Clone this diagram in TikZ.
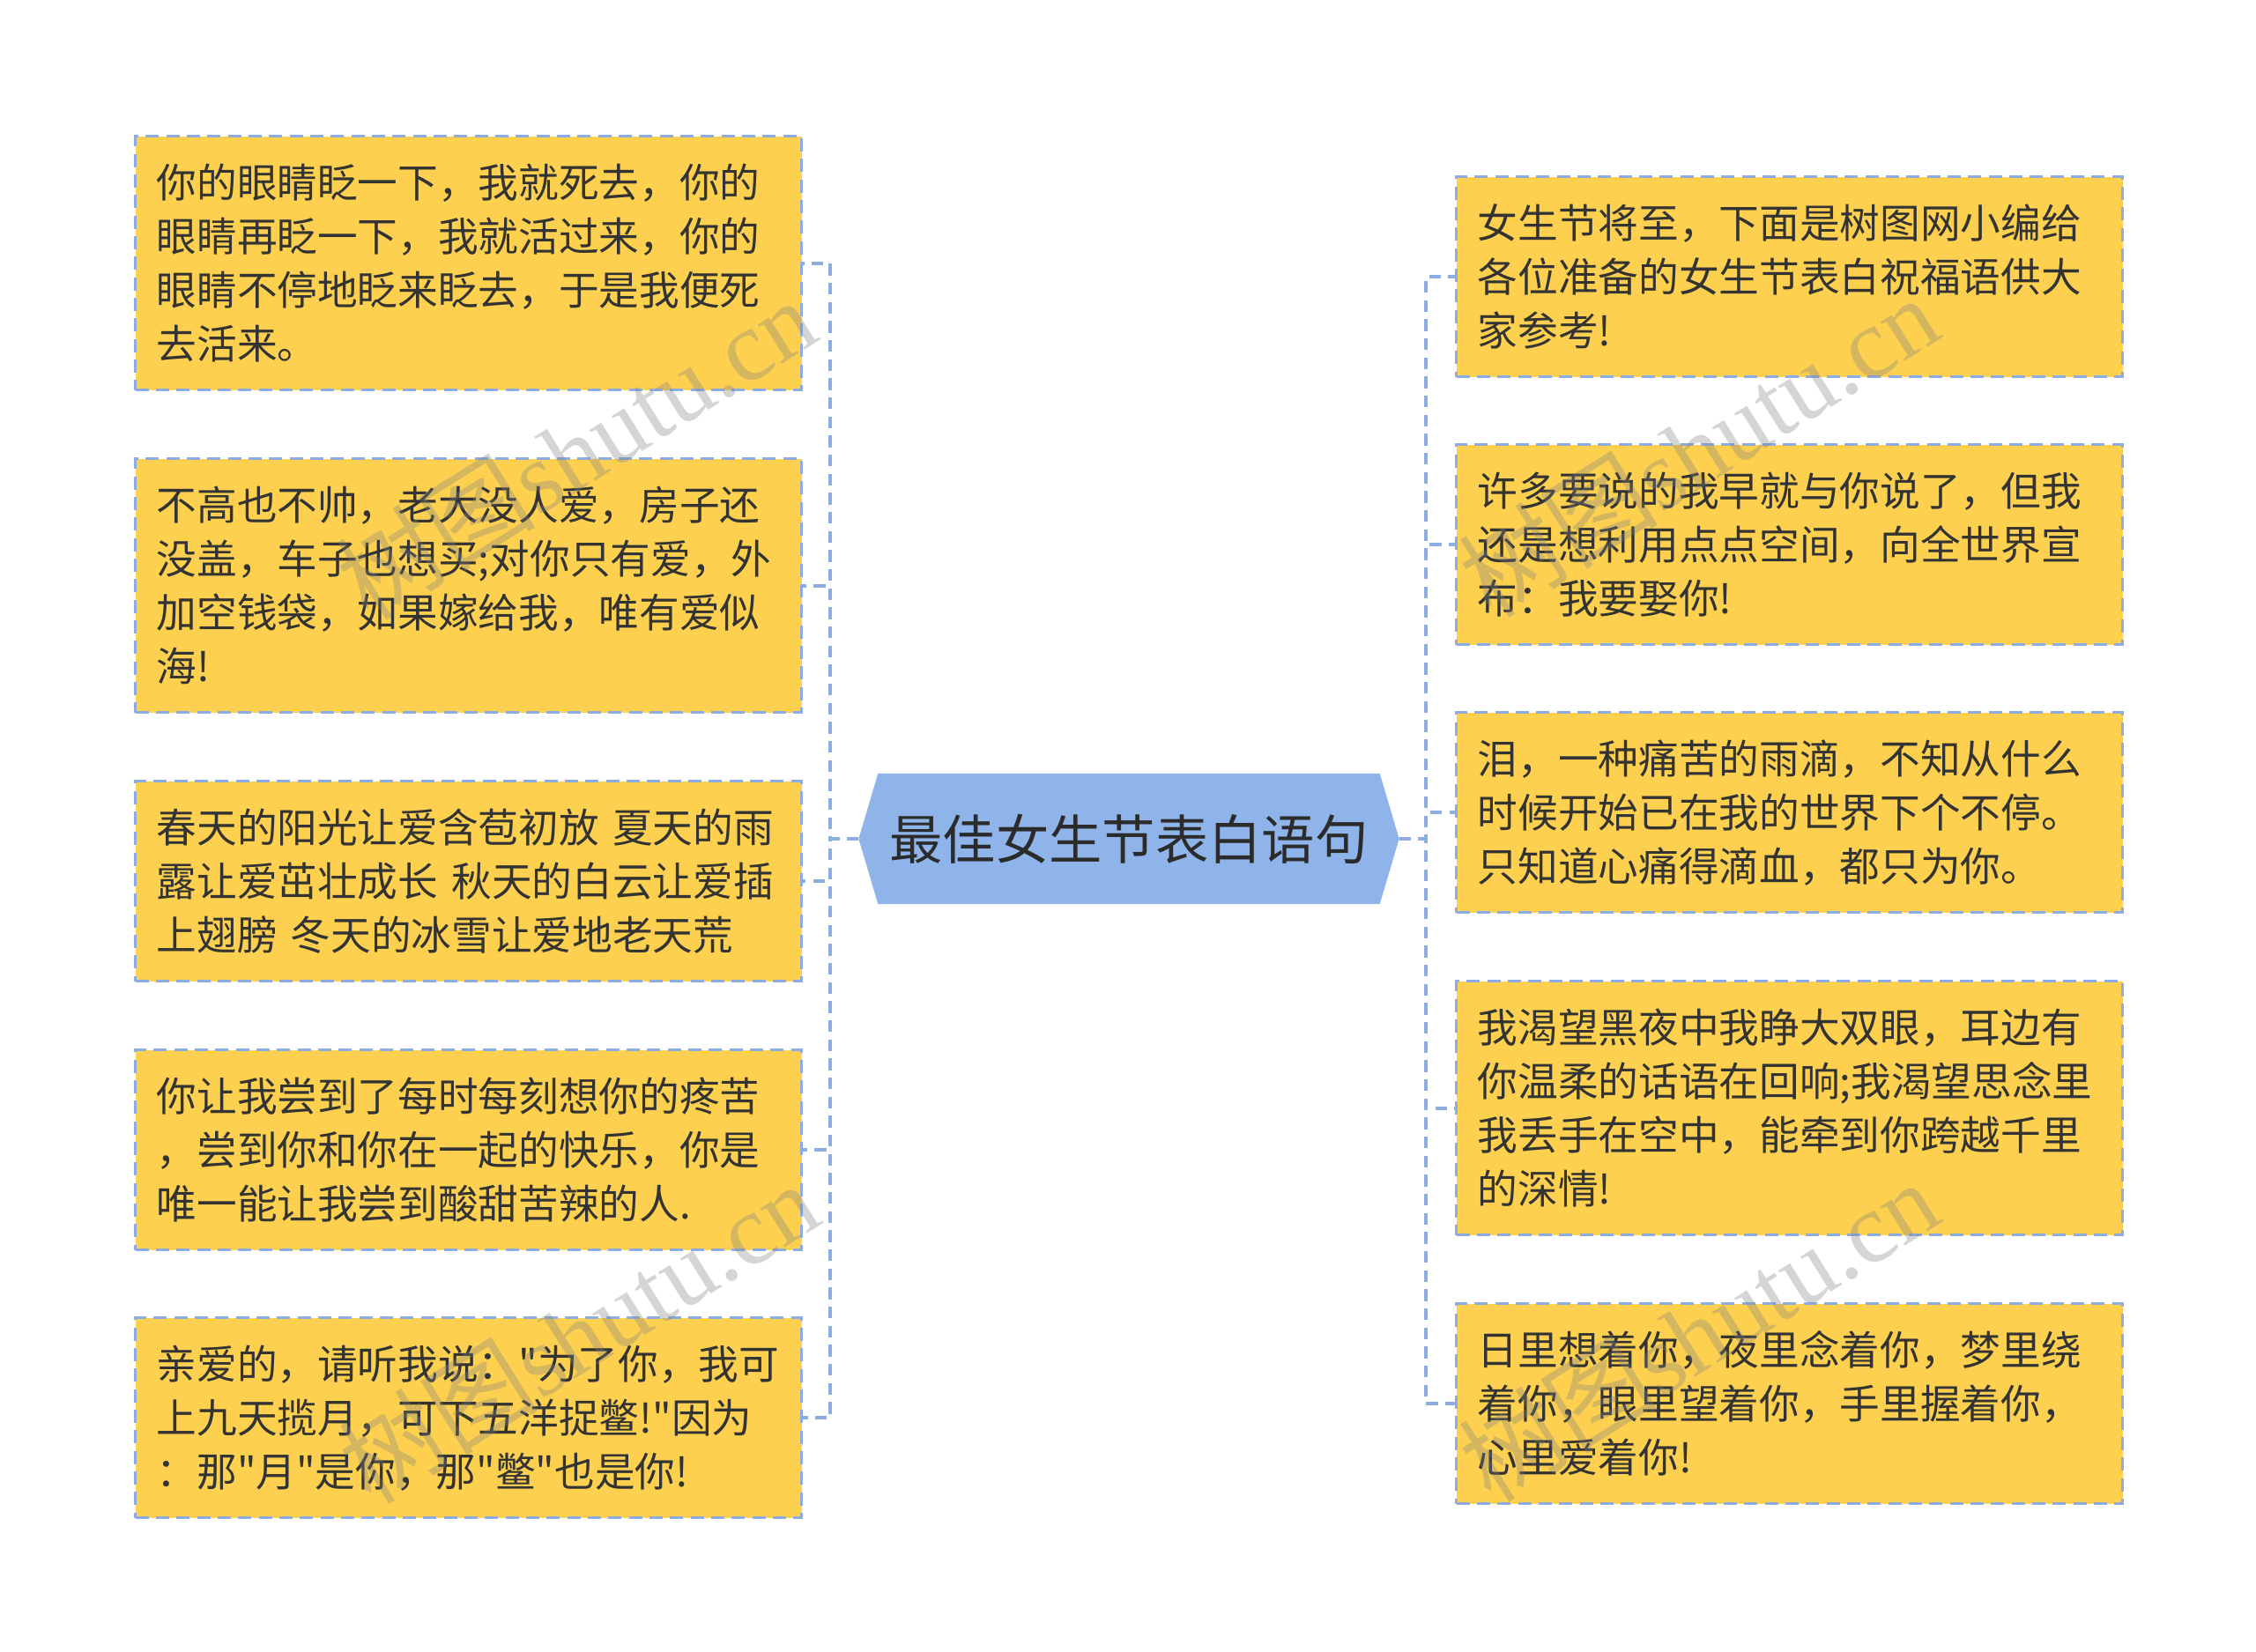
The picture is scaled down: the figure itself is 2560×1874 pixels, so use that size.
\documentclass[tikz,border=0pt]{standalone}
\usepackage{fontspec}
\setmainfont{Noto Sans CJK SC}[Ligatures=TeXOff]
\newfontfamily\wmlatin{Liberation Serif}
\usetikzlibrary{calc,backgrounds}
\definecolor{boxfill}{HTML}{FDD14F}
\definecolor{linec}{HTML}{8DADE2}
\definecolor{rootfill}{HTML}{8FB4EA}
\definecolor{txt}{HTML}{333333}
\definecolor{roottxt}{HTML}{2B2B2B}
\tikzset{
  card/.style={draw=linec, line width=1pt, dash pattern=on 4.5pt off 2.5pt,
    fill=boxfill, anchor=north west, text width=212.4pt, inner xsep=7.2pt,
    inner ysep=0pt, minimum width=226.8pt, align=left, text=txt,
    font=\fontsize{13.7pt}{18.3pt}\selectfont},
  four/.style={minimum height=86.4pt},
  three/.style={minimum height=68.1pt},
  conn/.style={draw=linec, line width=1.1pt, dash pattern=on 4pt off 2.5pt},
  rootbox/.style={minimum width=170.4pt, minimum height=44.1pt, inner sep=0pt,
    text=roottxt, font=\fontsize{18.1pt}{22pt}\selectfont},
  wm/.style={text=gray, opacity=0.33, rotate=32,
    font=\fontsize{34pt}{36pt}\selectfont}
}
\begin{document}
\begin{tikzpicture}[x=0.3pt, y=-0.3pt]
\useasboundingbox (0,0) rectangle (2560,1874);

% centre
\node[rootbox] (root) at (1281,952) {最佳女生节表白语句};
\coordinate (rootL) at ($(root.west)+(-22,0)$);
\coordinate (rootR) at ($(root.east)+(22,0)$);
\begin{pgfonlayer}{background}
\fill[rootfill] (root.north west) -- (root.north east) -- (rootR)
  -- (root.south east) -- (root.south west) -- (rootL) -- cycle;
\end{pgfonlayer}

% left cards
\node[card,four]  (L1) at (152,153)  {你的眼睛眨一下，我就死去，你的\\眼睛再眨一下，我就活过来，你的\\眼睛不停地眨来眨去，于是我便死\\去活来。};
\node[card,four]  (L2) at (152,519)  {不高也不帅，老大没人爱，房子还\\没盖，车子也想买;对你只有爱，外\\加空钱袋，如果嫁给我，唯有爱似\\海!};
\node[card,three] (L3) at (152,885)  {春天的阳光让爱含苞初放 夏天的雨\\露让爱茁壮成长 秋天的白云让爱插\\上翅膀 冬天的冰雪让爱地老天荒};
\node[card,three] (L4) at (152,1190) {你让我尝到了每时每刻想你的疼苦\\，尝到你和你在一起的快乐，你是\\唯一能让我尝到酸甜苦辣的人.};
\node[card,three] (L5) at (152,1494) {亲爱的，请听我说："为了你，我可\\上九天揽月，可下五洋捉鳖!"因为\\：那"月"是你，那"鳖"也是你!};

% right cards
\node[card,three] (R1) at (1651,199)  {女生节将至，下面是树图网小编给\\各位准备的女生节表白祝福语供大\\家参考!};
\node[card,three] (R2) at (1651,503)  {许多要说的我早就与你说了，但我\\还是想利用点点空间，向全世界宣\\布：我要娶你!};
\node[card,three] (R3) at (1651,807)  {泪，一种痛苦的雨滴，不知从什么\\时候开始已在我的世界下个不停。\\只知道心痛得滴血，都只为你。};
\node[card,four]  (R4) at (1651,1112) {我渴望黑夜中我睁大双眼，耳边有\\你温柔的话语在回响;我渴望思念里\\我丢手在空中，能牵到你跨越千里\\的深情!};
\node[card,three] (R5) at (1651,1478) {日里想着你，夜里念着你，梦里绕\\着你，眼里望着你，手里握着你，\\心里爱着你!};

% connectors
\coordinate (lj) at (942,952);
\coordinate (rj) at (1618,952);
\begin{pgfonlayer}{background}
\foreach \n in {L1,L2,L3,L4,L5}
  \draw[conn] (rootL) -- (lj) |- (\n.east);
\foreach \n in {R1,R2,R3,R4,R5}
  \draw[conn] (rootR) -- (rj) |- (\n.west);
\end{pgfonlayer}

% watermarks
\node[wm] (w1) at (653,509)  {树图{\wmlatin shutu.cn}};
\node[wm] (w2) at (656,1512) {树图{\wmlatin shutu.cn}};
\node[wm] (w3) at (1927,506) {树图{\wmlatin shutu.cn}};
\node[wm] (w4) at (1927,1510){树图{\wmlatin shutu.cn}};
\end{tikzpicture}
\end{document}
